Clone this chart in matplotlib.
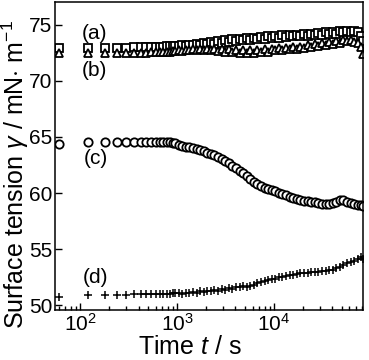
import matplotlib
matplotlib.use('Agg')
import matplotlib.pyplot as plt
from matplotlib.ticker import LogLocator, NullFormatter

plt.rcParams['font.family'] = ['Liberation Sans', 'DejaVu Sans']
plt.rcParams['mathtext.fontset'] = 'custom'
plt.rcParams['mathtext.rm'] = 'Liberation Sans'
plt.rcParams['mathtext.it'] = 'Liberation Sans:italic'

# time of each reading (s)
time_s = [60, 120, 180, 240, 300, 360, 420, 480, 540, 600, 660, 720, 780, 840, 900, 960,
          1040, 1130, 1230, 1340, 1460, 1590, 1730, 1880, 2050, 2230,
          2430, 2650, 2880, 3140, 3420, 3720, 4050, 4410, 4800, 5230,
          5690, 6200, 6750, 7350, 8000, 8710, 9490, 10300, 11200, 12200,
          13300, 14500, 15800, 17200, 18700, 20400, 22200, 24200, 26300, 28700,
          31200, 34000, 37000, 40300, 43900, 47800, 52000, 56700, 61700, 67200,
          73100, 79600, 82000]

# (a) squares
gamma_a = [72.9, 72.9, 72.9, 72.9, 72.95, 73.0, 73.0, 73.0, 73.05, 73.05, 73.05, 73.05, 73.1, 73.1, 73.1, 73.1,
           73.1, 73.15, 73.1, 73.2, 73.15, 73.3, 73.2, 73.35, 73.25, 73.45,
           73.3, 73.5, 73.4, 73.6, 73.45, 73.7, 73.55, 73.75, 73.6, 73.8,
           73.65, 73.85, 73.7, 73.9, 73.75, 73.95, 73.8, 74.0, 73.85, 74.05,
           73.9, 74.1, 73.95, 74.1, 74.0, 74.15, 74.0, 74.2, 74.05, 74.25,
           74.1, 74.3, 74.15, 74.35, 74.2, 74.4, 74.3, 74.45, 74.3, 74.4,
           74.3, 74.0, 73.5]

# (b) triangles
gamma_b = [72.45, 72.45, 72.45, 72.45, 72.5, 72.5, 72.5, 72.5, 72.55, 72.55, 72.55, 72.6, 72.6, 72.6, 72.65, 72.65,
           72.7, 72.65, 72.75, 72.7, 72.8, 72.7, 72.85, 72.7, 72.85, 72.7,
           72.8, 72.65, 72.8, 72.6, 72.8, 72.55, 72.75, 72.5, 72.7, 72.45,
           72.7, 72.5, 72.75, 72.55, 72.8, 72.6, 72.85, 72.7, 72.9, 72.75,
           72.95, 72.8, 73.0, 72.85, 73.05, 72.95, 73.15, 73.0, 73.25, 73.1,
           73.35, 73.2, 73.45, 73.3, 73.55, 73.4, 73.6, 73.5, 73.6, 73.45,
           73.35, 73.0, 72.4]

# (c) circles
gamma_c = [64.4, 64.55, 64.55, 64.55, 64.55, 64.55, 64.55, 64.55, 64.55, 64.55, 64.55, 64.55, 64.55, 64.55, 64.5, 64.45,
           64.3, 64.2, 64.15, 64.1, 64.0, 63.95, 63.85, 63.75, 63.6, 63.5,
           63.35, 63.2, 63.05, 62.85, 62.65, 62.4, 62.2, 61.95, 61.75, 61.5,
           61.25, 61.0, 60.8, 60.6, 60.5, 60.35, 60.25, 60.15, 60.05, 59.95,
           59.85, 59.7, 59.6, 59.5, 59.35, 59.3, 59.3, 59.25, 59.2, 59.1,
           59.05, 59.05, 59.05, 59.1, 59.2, 59.35, 59.4, 59.25, 59.1, 59.0,
           58.95, 58.9, 58.85]

# (d) crosses
gamma_d = [50.77, 50.95, 50.95, 50.97, 50.97, 50.98, 50.98, 51.0, 51.0, 51.02, 51.02, 51.03, 51.05, 51.05, 51.07, 51.08,
           51.1, 51.05, 51.15, 51.1, 51.2, 51.15, 51.25, 51.2, 51.3, 51.25,
           51.35, 51.3, 51.45, 51.4, 51.55, 51.5, 51.65, 51.6, 51.7, 51.65,
           51.75, 51.8, 52.0, 52.1, 52.2, 52.25, 52.35, 52.4, 52.5, 52.55,
           52.6, 52.7, 52.75, 52.8, 52.85, 52.9, 52.85, 52.95, 53.0, 53.0,
           53.1, 53.1, 53.2, 53.15, 53.3, 53.45, 53.6, 53.75, 53.85, 54.0,
           54.15, 54.3, 54.1]

series_labels = ['(a)', '(b)', '(c)', '(d)']
label_pos = [(140, 74.2), (140, 70.9), (145, 63.1), (143, 52.5)]

fig = plt.figure(figsize=(3.69, 3.60), dpi=100)
ax = fig.add_axes([0.149, 0.139, 0.835, 0.855])

ax.plot(time_s, gamma_a, linestyle='none', marker='s', ms=5.5, mfc='white', mec='black', mew=1.3)
ax.plot(time_s, gamma_b, linestyle='none', marker='^', ms=5.5, mfc='white', mec='black', mew=1.3)
ax.plot(time_s, gamma_c, linestyle='none', marker='o', ms=6, mfc='white', mec='black', mew=1.3)
ax.plot(time_s, gamma_d, linestyle='none', marker='+', ms=6, mec='black', mew=1.1)

for lab, (tx, ty) in zip(series_labels, label_pos):
    ax.text(tx, ty, lab, fontsize=15, ha='center', va='center')

ax.set_xscale('log')
ax.set_xlim(55, 83000)
ax.set_ylim(49.6, 77)
ax.set_yticks([50, 55, 60, 65, 70, 75])
ax.xaxis.set_major_locator(LogLocator(base=10, numticks=10))
ax.xaxis.set_minor_locator(LogLocator(base=10, subs=range(2, 10), numticks=20))
ax.xaxis.set_minor_formatter(NullFormatter())

ax.tick_params(which='both', direction='in', top=False, right=False, labelsize=15, width=1)
ax.tick_params(axis='y', pad=2)
ax.tick_params(axis='x', pad=2)
ax.tick_params(which='major', length=5)
ax.tick_params(which='minor', length=3)
for sp in ax.spines.values():
    sp.set_linewidth(1.1)

ax.set_xlabel('Time $t$ / s', fontsize=18)
ax.set_ylabel('Surface tension $\\gamma$ / mN$\\cdot$ m$^{-1}$', fontsize=18)
ax.xaxis.label.set_va('center')
ax.yaxis.label.set_va('center')
ax.xaxis.set_label_coords(0.437, -0.12)
ax.yaxis.set_label_coords(-0.13, 0.44)

fig.savefig('out.png', dpi=100)
